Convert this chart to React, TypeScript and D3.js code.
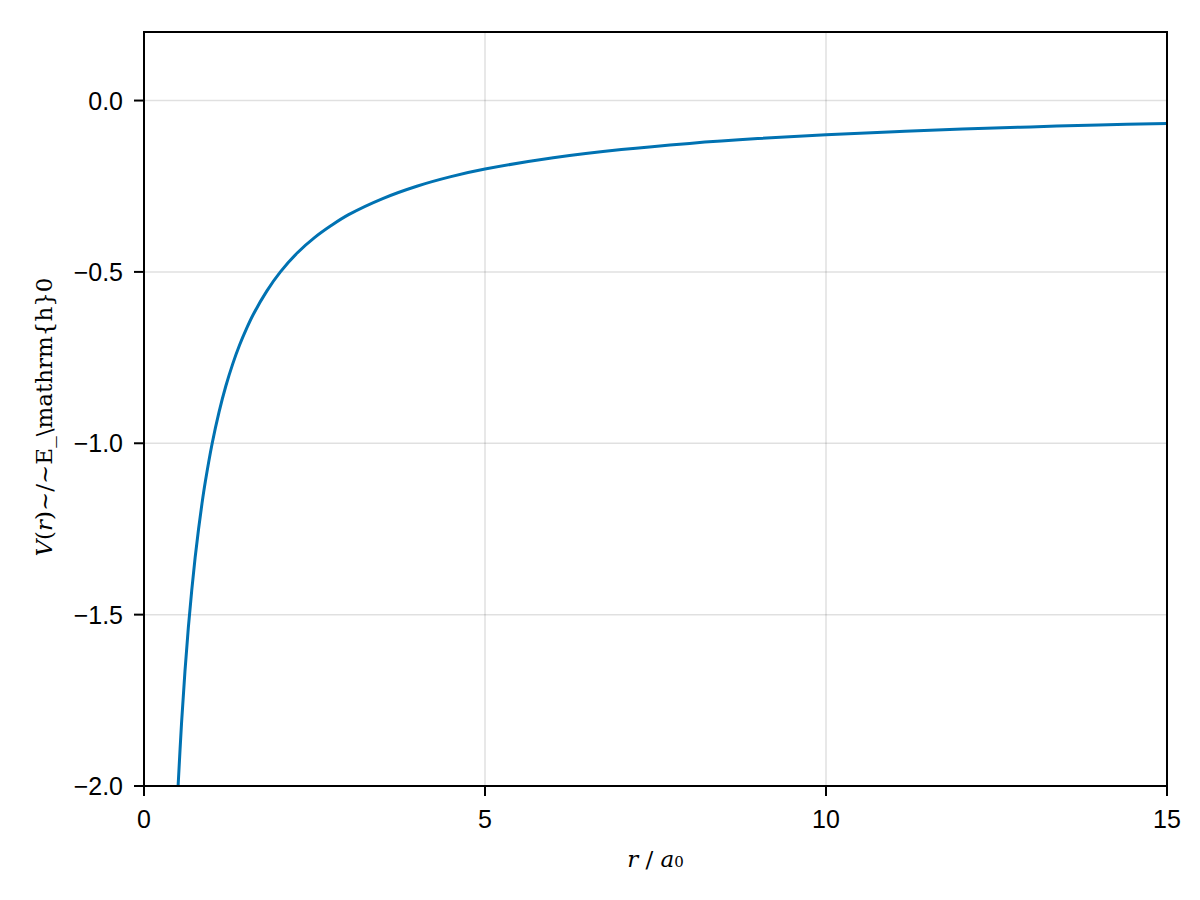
import React from 'react'
import * as d3 from 'd3'

// values
const rValues = [0.5, 0.55, 0.6, 0.65, 0.7, 0.75, 0.8, 0.85, 0.9, 1.0, 1.1, 1.2, 1.3, 1.4, 1.5, 1.6, 1.8, 2.0, 2.25, 2.5, 2.75, 3, 3.5, 4, 4.5, 5, 6, 7, 8, 9, 10, 11, 12, 13, 14, 15]
const vValues = [-2.0, -1.818, -1.667, -1.538, -1.429, -1.333, -1.25, -1.176, -1.111, -1.0, -0.909, -0.833, -0.769, -0.714, -0.667, -0.625, -0.556, -0.5, -0.444, -0.4, -0.364, -0.333, -0.286, -0.25, -0.222, -0.2, -0.167, -0.143, -0.125, -0.111, -0.1, -0.091, -0.083, -0.077, -0.071, -0.067]
const xTicks = [0, 5, 10, 15]
const yTicks = [-2.0, -1.5, -1.0, -0.5, 0.0]

const W = 1200
const H = 900
const margin = { top: 32, right: 33, bottom: 114, left: 144 }

const sans = '"Liberation Sans", Arial, sans-serif'
const serif = '"DejaVu Serif", "Liberation Serif", serif'

export default function App() {
  const x = d3.scaleLinear().domain([0, 15]).range([margin.left, W - margin.right])
  const y = d3.scaleLinear().domain([-2, 0.2]).range([H - margin.bottom, margin.top])

  const line = d3.line<number>()
    .x((_, i) => x(rValues[i]))
    .y(d => y(d))
    .curve(d3.curveCatmullRom.alpha(0.5))

  const fmt = (v: number) => v.toFixed(1).replace('-', '\u2212')

  const x0 = x.range()[0], x1 = x.range()[1]
  const y0 = y.range()[0], y1 = y.range()[1]

  return (
    <svg width={W} height={H} style={{ position: 'absolute', left: 0, top: 0, background: '#fff' }}>
      <rect width={W} height={H} fill="#fff" />
      {xTicks.map(t => (
        <line key={'gx' + t} x1={x(t)} x2={x(t)} y1={y1} y2={y0} stroke="#000" strokeOpacity={0.12} strokeWidth={1.5} />
      ))}
      {yTicks.map(t => (
        <line key={'gy' + t} x1={x0} x2={x1} y1={y(t)} y2={y(t)} stroke="#000" strokeOpacity={0.12} strokeWidth={1.5} />
      ))}
      <clipPath id="plot">
        <rect x={x0} y={y1} width={x1 - x0} height={y0 - y1} />
      </clipPath>
      <path d={line(vValues) || ''} fill="none" stroke="#0072b2" strokeWidth={3} clipPath="url(#plot)" />
      <rect x={x0} y={y1} width={x1 - x0} height={y0 - y1} fill="none" stroke="#000" strokeWidth={2} />
      {xTicks.map(t => (
        <g key={'tx' + t}>
          <line x1={x(t)} x2={x(t)} y1={y0} y2={y0 + 10} stroke="#000" strokeWidth={2} />
          <text x={x(t)} y={y0 + 42} textAnchor="middle" fontFamily={sans} fontSize={25}>{t}</text>
        </g>
      ))}
      {yTicks.map(t => (
        <g key={'ty' + t}>
          <line x1={x0 - 10} x2={x0} y1={y(t)} y2={y(t)} stroke="#000" strokeWidth={2} />
          <text x={x0 - 21} y={y(t)} dy="0.36em" textAnchor="end" fontFamily={sans} fontSize={25}>{fmt(t)}</text>
        </g>
      ))}
      <text x={(x0 + x1) / 2} y={867} textAnchor="middle" fontFamily={serif} fontSize={23}>
        <tspan fontStyle="italic">r</tspan>
        <tspan> / </tspan>
        <tspan fontStyle="italic">a</tspan>
        <tspan fontSize={15}>0</tspan>
      </text>
      <text transform={`translate(52, ${(y0 + y1) / 2 + 8}) rotate(-90)`} textAnchor="middle" fontFamily={serif} fontSize={23}>
        <tspan fontStyle="italic">V</tspan>
        <tspan>(</tspan>
        <tspan fontStyle="italic">r</tspan>
        <tspan>)~/~E_\mathrm{'{'}h{'}'}0</tspan>
      </text>
    </svg>
  )
}
